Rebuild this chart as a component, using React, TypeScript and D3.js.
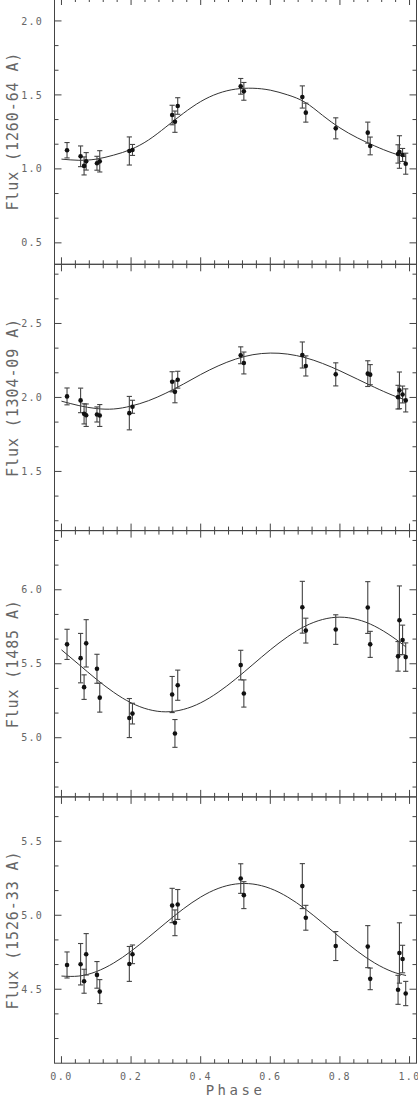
import React, { useRef, useEffect } from "react";
import * as d3 from "d3";

// phases of the 22 observations (same in every band)
const phase = [0.016, 0.055, 0.065, 0.071, 0.102, 0.110, 0.195, 0.204, 0.318, 0.326, 0.334,
  0.515, 0.524, 0.692, 0.702, 0.788, 0.880, 0.887, 0.967, 0.971, 0.980, 0.989];

const flux1260 = [1.126, 1.085, 1.020, 1.051, 1.038, 1.051, 1.121, 1.128, 1.364, 1.319, 1.425,
  1.558, 1.524, 1.486, 1.380, 1.274, 1.245, 1.155, 1.101, 1.114, 1.094, 1.035];
const err1260 = [0.052, 0.070, 0.061, 0.059, 0.047, 0.072, 0.095, 0.037, 0.066, 0.072, 0.056,
  0.053, 0.060, 0.075, 0.064, 0.071, 0.071, 0.060, 0.062, 0.110, 0.044, 0.071];

const flux1304 = [2.007, 1.980, 1.889, 1.880, 1.885, 1.878, 1.894, 1.937, 2.106, 2.038, 2.120,
  2.285, 2.233, 2.287, 2.213, 2.156, 2.161, 2.154, 2.002, 2.048, 2.020, 1.980];
const err1304 = [0.057, 0.083, 0.068, 0.076, 0.051, 0.074, 0.113, 0.044, 0.068, 0.074, 0.057,
  0.057, 0.074, 0.088, 0.068, 0.078, 0.087, 0.068, 0.080, 0.124, 0.057, 0.078];

const flux1485 = [5.631, 5.538, 5.342, 5.638, 5.466, 5.271, 5.133, 5.163, 5.292, 5.029, 5.355,
  5.491, 5.299, 5.882, 5.724, 5.731, 5.880, 5.631, 5.550, 5.794, 5.661, 5.545];
const err1485 = [0.102, 0.167, 0.083, 0.160, 0.098, 0.098, 0.132, 0.070, 0.122, 0.094, 0.102,
  0.100, 0.092, 0.175, 0.084, 0.100, 0.175, 0.088, 0.100, 0.232, 0.100, 0.096];

const flux1526 = [4.664, 4.669, 4.554, 4.736, 4.597, 4.484, 4.671, 4.736, 5.066, 4.949, 5.073,
  5.248, 5.136, 5.197, 4.983, 4.792, 4.788, 4.570, 4.496, 4.745, 4.704, 4.471];
const err1526 = [0.088, 0.140, 0.081, 0.140, 0.090, 0.081, 0.118, 0.063, 0.116, 0.087, 0.101,
  0.100, 0.091, 0.152, 0.084, 0.098, 0.142, 0.073, 0.098, 0.204, 0.093, 0.082];

// fitted curves
const fitPhase = [0, 0.05, 0.1, 0.15, 0.2, 0.25, 0.3, 0.35, 0.4, 0.45, 0.5,
  0.55, 0.6, 0.65, 0.7, 0.75, 0.8, 0.85, 0.9, 0.95, 0.99];
const fit1260 = [1.066, 1.058, 1.066, 1.093, 1.132, 1.195, 1.283, 1.375, 1.455, 1.510, 1.539,
  1.545, 1.532, 1.500, 1.450, 1.362, 1.277, 1.210, 1.155, 1.108, 1.082];
const fit1304 = [1.975, 1.945, 1.925, 1.922, 1.942, 1.978, 2.029, 2.090, 2.155, 2.213, 2.259,
  2.289, 2.300, 2.293, 2.269, 2.230, 2.180, 2.124, 2.068, 2.016, 1.982];
const fit1485 = [5.594, 5.495, 5.396, 5.307, 5.236, 5.191, 5.175, 5.191, 5.236, 5.307, 5.396,
  5.495, 5.594, 5.683, 5.754, 5.799, 5.815, 5.799, 5.754, 5.683, 5.613];
const fit1526 = [4.589, 4.589, 4.619, 4.677, 4.757, 4.851, 4.949, 5.043, 5.123, 5.181, 5.211,
  5.211, 5.181, 5.123, 5.043, 4.949, 4.851, 4.757, 4.677, 4.619, 4.593];

const bandLabels = ["Flux (1260-64 A)", "Flux (1304-09 A)", "Flux (1485 A)", "Flux (1526-33 A)"];
const yLow = [0.355, 1.10, 4.60, 4.00];
const yHigh = [2.155, 2.90, 6.40, 5.80];
const phaseTicks = [0, 0.2, 0.4, 0.6, 0.8, 1.0];

const W = 418, H = 1096;
const left = 54.5, right = 416.5, top0 = -2, panelH = 266.3;
const axisColor = "#444";
const textColor = "#666";
const font = "'DejaVu Sans Mono', monospace";

const App = () => {
  const ref = useRef<SVGSVGElement>(null);

  useEffect(() => {
    const svg = d3.select(ref.current);
    svg.selectAll("*").remove();

    const x = d3.scaleLinear().domain([-0.02, 1.02]).range([left, right]);
    const minorX = d3.range(0, 26).map(k => k * 0.04);

    const panels = [
      { flux: flux1260, err: err1260, fit: fit1260 },
      { flux: flux1304, err: err1304, fit: fit1304 },
      { flux: flux1485, err: err1485, fit: fit1485 },
      { flux: flux1526, err: err1526, fit: fit1526 },
    ];

    panels.forEach((p, i) => {
      const y0 = top0 + i * panelH;
      const y1 = y0 + panelH;
      const y = d3.scaleLinear().domain([yLow[i], yHigh[i]]).range([y1, y0]);
      const g = svg.append("g");

      // frame
      g.append("rect")
        .attr("x", left).attr("y", y0)
        .attr("width", right - left).attr("height", panelH)
        .attr("fill", "none").attr("stroke", axisColor).attr("stroke-width", 1);

      // x ticks, top and bottom, pointing inwards
      minorX.forEach((v, k) => {
        const len = k % 5 === 0 ? 7 : 4;
        const xx = x(v);
        g.append("line").attr("x1", xx).attr("x2", xx).attr("y1", y1).attr("y2", y1 - len)
          .attr("stroke", axisColor);
        g.append("line").attr("x1", xx).attr("x2", xx).attr("y1", y0).attr("y2", y0 + len)
          .attr("stroke", axisColor);
      });

      // y ticks every 1/6, labelled every 0.5
      const kLo = Math.ceil(yLow[i] * 6 - 1e-6);
      const kHi = Math.floor(yHigh[i] * 6 + 1e-6);
      d3.range(kLo, kHi + 1).forEach(k => {
        const v = k / 6;
        const major = k % 3 === 0;
        const len = major ? 7 : 4;
        const yy = y(v);
        if (yy < y0 + 1 || yy > y1 - 1) return;
        g.append("line").attr("x1", left).attr("x2", left + len).attr("y1", yy).attr("y2", yy)
          .attr("stroke", axisColor);
        g.append("line").attr("x1", right).attr("x2", right - len).attr("y1", yy).attr("y2", yy)
          .attr("stroke", axisColor);
        if (major) {
          g.append("text")
            .attr("x", 43).attr("y", yy).attr("dy", "0.36em")
            .attr("text-anchor", "end")
            .attr("font-family", font).attr("font-size", 10)
            .attr("letter-spacing", 1.2)
            .attr("fill", textColor)
            .text(v.toFixed(1));
        }
      });

      // y label
      g.append("text")
        .attr("transform", `translate(18, ${(y0 + y1) / 2}) rotate(-90)`)
        .attr("text-anchor", "middle")
        .attr("font-family", font).attr("font-size", 15)
        .attr("letter-spacing", 0.9)
        .attr("fill", textColor)
        .text(bandLabels[i]);

      // fitted curve
      const line = d3.line<number>()
        .x((_, j) => x(fitPhase[j]))
        .y(d => y(d))
        .curve(d3.curveNatural);
      g.append("path")
        .datum(p.fit)
        .attr("d", line)
        .attr("fill", "none")
        .attr("stroke", "#333")
        .attr("stroke-width", 1);

      // error bars
      phase.forEach((ph, j) => {
        const xx = x(ph);
        const hi = y(p.flux[j] + p.err[j]);
        const lo = y(p.flux[j] - p.err[j]);
        g.append("line").attr("x1", xx).attr("x2", xx).attr("y1", hi).attr("y2", lo)
          .attr("stroke", "#444").attr("stroke-width", 1.1);
        [hi, lo].forEach(c => {
          g.append("line").attr("x1", xx - 2.6).attr("x2", xx + 2.6).attr("y1", c).attr("y2", c)
            .attr("stroke", "#444").attr("stroke-width", 1.1);
        });
      });

      // points
      g.selectAll(".dot")
        .data(p.flux)
        .enter()
        .append("circle")
        .attr("cx", (_, j) => x(phase[j]))
        .attr("cy", d => y(d))
        .attr("r", 2.3)
        .attr("fill", "#111");

      // phase labels on the last panel
      if (i === panels.length - 1) {
        phaseTicks.forEach(v => {
          g.append("text")
            .attr("x", x(v)).attr("y", 1080)
            .attr("text-anchor", "middle")
            .attr("font-family", font).attr("font-size", 10)
            .attr("letter-spacing", 1.4)
            .attr("fill", textColor)
            .text(v.toFixed(1));
        });
        g.append("text")
          .attr("x", x(0.5)).attr("y", 1095)
          .attr("text-anchor", "middle")
          .attr("font-family", font).attr("font-size", 14)
          .attr("letter-spacing", 3.5)
          .attr("fill", textColor)
          .text("Phase");
      }
    });
  }, []);

  return (
    <svg
      ref={ref}
      width={W}
      height={H}
      style={{ position: "absolute", left: 0, top: 0, background: "#fff" }}
    ></svg>
  );
};

export default App;
